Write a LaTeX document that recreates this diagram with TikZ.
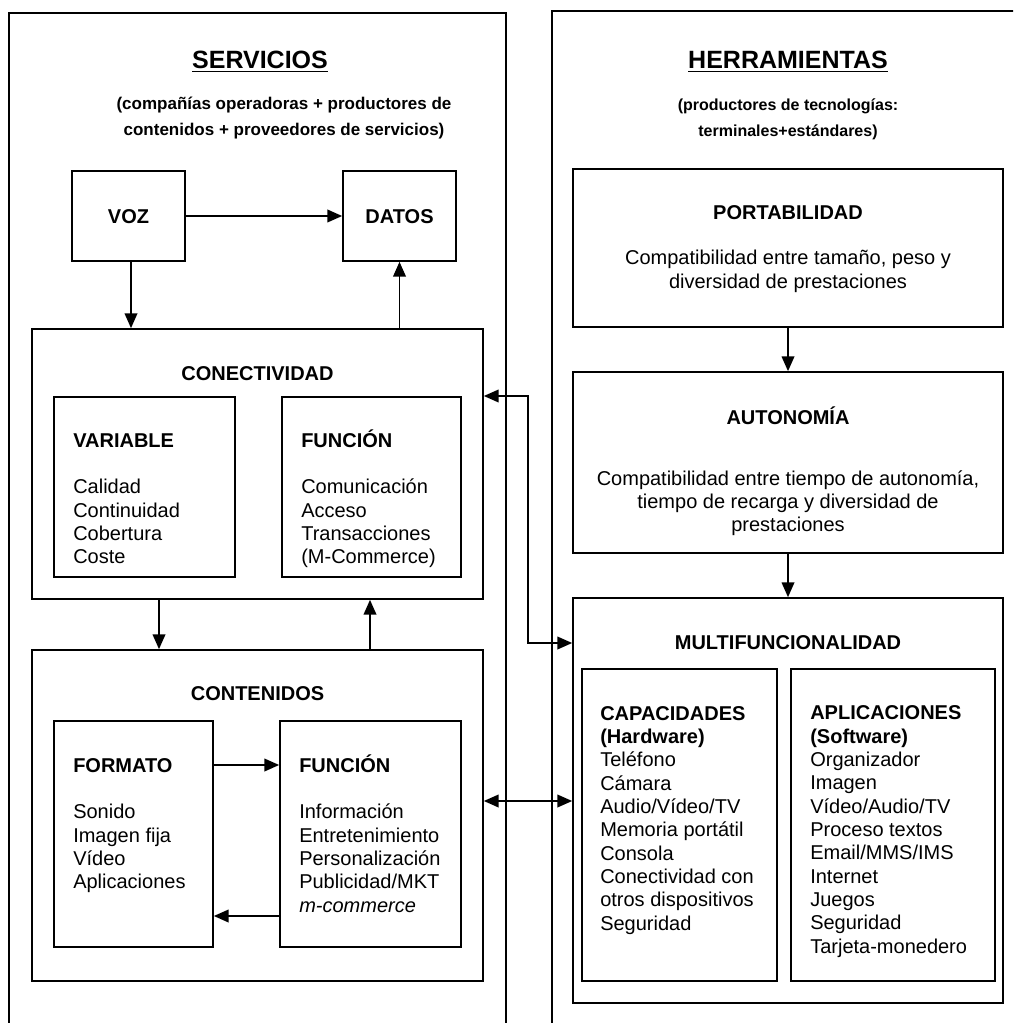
\documentclass[tikz,border=0pt]{standalone}
\usepackage{fontspec}
\setmainfont{Liberation Sans}
\usetikzlibrary{arrows.meta,fit}
\tikzset{
  box/.style={draw, line width=1.3pt, inner sep=0pt},
  panel/.style={draw, line width=1pt, inner sep=0pt},
  tip/.tip={Triangle[length=11pt,width=9.5pt]},
  arr/.style={line width=1pt, -tip},
  darr/.style={line width=1pt, tip-tip},
  body/.style={font=\fontsize{15}{17.5}\selectfont, inner sep=0pt, align=left, anchor=base west},
  hd/.style={font=\fontsize{15}{17.5}\selectfont\bfseries, inner sep=0pt, anchor=base},
  ctext/.style={font=\fontsize{15}{18}\selectfont, inner sep=0pt, align=center, anchor=base},
  bigtitle/.style={font=\fontsize{18.75}{22}\selectfont\bfseries, inner sep=0pt, anchor=base},
  subt/.style={font=\fontsize{#1}{19.5}\selectfont\bfseries, inner sep=0pt, align=center, anchor=base},
}
\begin{document}
\begin{tikzpicture}[x=0.75pt,y=-0.75pt]
\clip (0,0) rectangle (1013,1023);
\fill[white] (0,0) rectangle (1013,1023);

% panels
\node[panel, fit={(9,13) (506,1040)}] (servpanel) {};
\node[panel, fit={(552,11) (1030,1040)}] (herrpanel) {};

% titles (multi-line nodes are placed by the baseline of their last line)
\node[bigtitle] (servT) at (260,69) {\underline{SERVICIOS}};
\node[bigtitle] (herrT) at (788,69) {\underline{HERRAMIENTAS}};
\node[subt=12.75] (servS) at (284,136)
  {(compañías operadoras + productores de\\contenidos + proveedores de servicios)};
\node[subt=12] (herrS) at (788,137)
  {(productores de tecnologías:\\terminales+estándares)};

% ---------- left side ----------
\node[box, fit={(72,171) (185,261)}] (voz) {};
\node[hd] (vozT) at (voz.center |- 0,224) {VOZ};
\node[box, fit={(343,171) (456,261)}] (datos) {};
\node[hd] (datosT) at (datos.center |- 0,224) {DATOS};

\node[box, fit={(32,329) (483,599)}] (conect) {};
\node[hd] (conectT) at (257.5,380) {CONECTIVIDAD};
\node[box, fit={(54,397) (235,577)}] (variable) {};
\node[body] (variableT) at (73,563.7) {\textbf{VARIABLE}\\[17.5pt]Calidad\\Continuidad\\Cobertura\\Coste};
\node[box, fit={(282,397) (461,577)}] (funcA) {};
\node[body] (funcAT) at (301,563.7) {\textbf{FUNCIÓN}\\[17.5pt]Comunicación\\Acceso\\Transacciones\\(M-Commerce)};

\node[box, fit={(32,650) (483,981)}] (conten) {};
\node[hd] (contenT) at (257.5,700) {CONTENIDOS};
\node[box, fit={(54,721) (213,947)}] (formato) {};
\node[body] (formatoT) at (73,888.7) {\textbf{FORMATO}\\[17.5pt]Sonido\\Imagen fija\\Vídeo\\Aplicaciones};
\node[box, fit={(280,721) (461,947)}] (funcB) {};
\node[body] (funcBT) at (299,912) {\textbf{FUNCIÓN}\\[17.5pt]Información\\Entretenimiento\\Personalización\\Publicidad/MKT\\\textit{m-commerce}};

% ---------- right side ----------
\node[box, fit={(573,169) (1003,327)}] (port) {};
\node[hd] (portT) at (788,220) {PORTABILIDAD};
\node[ctext] (portX) at (788,289) {Compatibilidad entre tamaño, peso y\\diversidad de prestaciones};

\node[box, fit={(573,372) (1003,553)}] (auto) {};
\node[hd] (autoT) at (788,424) {AUTONOMÍA};
\node[ctext, font=\fontsize{15}{17.5}\selectfont] (autoX) at (788,531.7) {Compatibilidad entre tiempo de autonomía,\\tiempo de recarga y diversidad de\\prestaciones};

\node[box, fit={(573,598) (1003,1003)}] (multi) {};
\node[hd] (multiT) at (788,649) {MULTIFUNCIONALIDAD};
\node[box, fit={(582,669) (777,981)}] (capac) {};
\node[body] (capacT) at (600,930) {\textbf{CAPACIDADES}\\\textbf{(Hardware)}\\Teléfono\\Cámara\\Audio/Vídeo/TV\\Memoria portátil\\Consola\\Conectividad con\\otros dispositivos\\Seguridad};
\node[box, fit={(791,669) (995,981)}] (aplic) {};
\node[body] (aplicT) at (810,953.3) {\textbf{APLICACIONES}\\\textbf{(Software)}\\Organizador\\Imagen\\Vídeo/Audio/TV\\Proceso textos\\Email/MMS/IMS\\Internet\\Juegos\\Seguridad\\Tarjeta-monedero};

% ---------- connectors ----------
\coordinate (cvoz) at (131,0);
\coordinate (cdown) at (159,0);
\coordinate (cup) at (370,0);
\coordinate (yff) at (0,765);
\coordinate (yfb) at (0,916);
\coordinate (ycm) at (0,801);
\coordinate (bendA) at (528,396);
\coordinate (bendB) at (528,643);

\draw[arr] (voz.east) -- (datos.west);
\draw[arr] (voz.south -| cvoz) -- (conect.north -| cvoz);
\draw[arr] (conect.north -| datos.south) -- (datos.south);
\draw[arr] (conect.south -| cdown) -- (conten.north -| cdown);
\draw[arr] (conten.north -| cup) -- (conect.south -| cup);
\draw[arr] (formato.east |- yff) -- (funcB.west |- yff);
\draw[arr] (funcB.west |- yfb) -- (formato.east |- yfb);
\draw[arr] (port.south) -- (auto.north);
\draw[arr] (auto.south) -- (multi.north);
\draw[darr] (conten.east |- ycm) -- (multi.west |- ycm);
\draw[darr] (conect.east |- bendA) -- (bendA) -- (bendB) -- (multi.west |- bendB);
\end{tikzpicture}
\end{document}
